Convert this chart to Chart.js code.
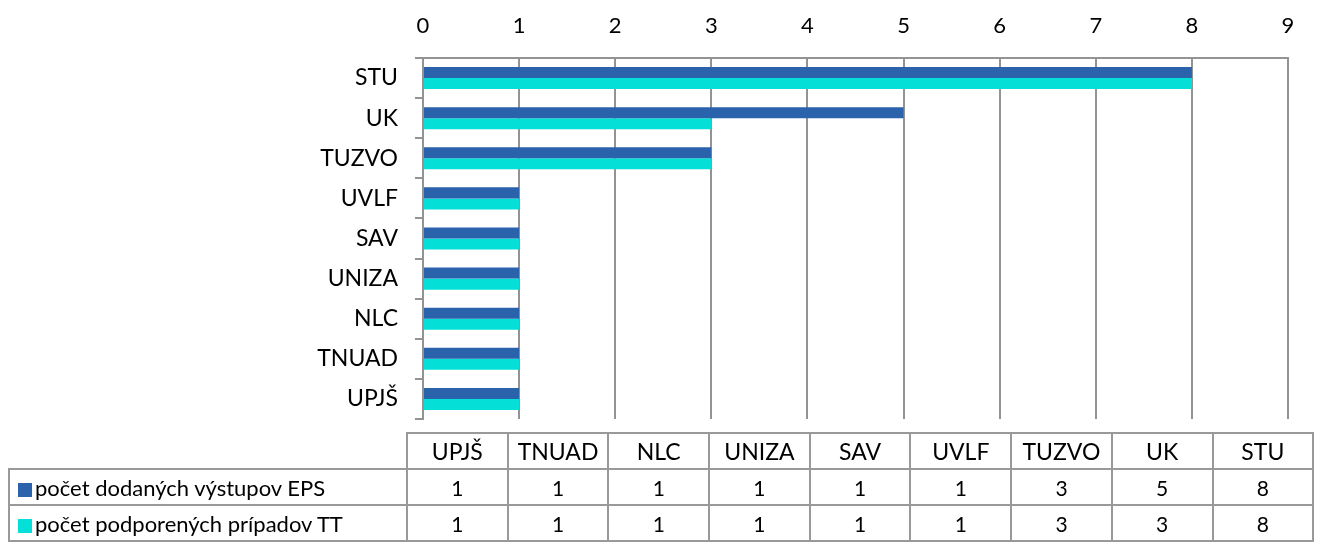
<!DOCTYPE html>
<html>
<head>
<meta charset="utf-8">
<script src="https://cdn.jsdelivr.net/npm/chart.js@4"></script>
<style>
  html, body { margin: 0; padding: 0; background: #fff; }
  #wrap { position: relative; width: 1319px; height: 545px; font-family: Lato, "Open Sans", sans-serif; }
  #chart { position: absolute; left: 0; top: 0; }
  #tbl { position: absolute; left: 8px; top: 432px; border-collapse: collapse; table-layout: fixed; color: #000; }
  #tbl td { border: 2px solid #999; height: 34px; padding: 0; text-align: center; font-size: 21px; }
  #tbl tr.head td { font-size: 23px; }
  #tbl td.corner { border-top: none; border-left: none; }
  #tbl td.name { text-align: left; font-size: 22px; padding-left: 8px; white-space: nowrap; }
  .sw { display: inline-block; width: 14px; height: 14px; margin-right: 3px; vertical-align: -1px; }
</style>
</head>
<body>
<div id="wrap">
  <canvas id="chart" width="1319" height="545"></canvas>
  <table id="tbl"></table>
</div>
<script>
const categories = ['UPJŠ', 'TNUAD', 'NLC', 'UNIZA', 'SAV', 'UVLF', 'TUZVO', 'UK', 'STU'];
const seriesNames = ['počet dodaných výstupov EPS', 'počet podporených prípadov TT'];
const eps = [1, 1, 1, 1, 1, 1, 3, 5, 8];
const tt = [1, 1, 1, 1, 1, 1, 3, 3, 8];
const colors = ['#2a63ac', '#04e0d8'];
const gridGray = '#939393';

const series = [eps, tt];

// data table under the plot
const tbl = document.getElementById('tbl');
let html = '<colgroup><col style="width:398px">' +
  categories.map(() => '<col style="width:100.7px">').join('') + '</colgroup>';
html += '<tr class="head"><td class="corner"></td>' + categories.map(c => `<td>${c}</td>`).join('') + '</tr>';
series.forEach((vals, i) => {
  html += `<tr><td class="name"><span class="sw" style="background:${colors[i]}"></span>${seriesNames[i]}</td>` +
    vals.map(v => `<td>${v}</td>`).join('') + '</tr>';
});
tbl.innerHTML = html;

const data = {
  labels: categories,
  datasets: series.map((vals, i) => ({
    label: seriesNames[i],
    data: vals,
    backgroundColor: colors[i],
    categoryPercentage: 0.55,
    barPercentage: 1,
  })),
};

const options = {
  indexAxis: 'y',
  responsive: false,
  animation: false,
  devicePixelRatio: 1,
  layout: { padding: { left: 0, top: 0, right: 31, bottom: 126 } },
  plugins: {
    legend: { display: false },
    tooltip: { enabled: false },
  },
  scales: {
    x: {
      position: 'top',
      min: 0,
      max: 9,
      ticks: { stepSize: 1, color: '#000', padding: 19, font: { family: 'Lato', size: 22 } },
      grid: { color: gridGray, lineWidth: 2, drawTicks: false },
      border: { display: true, color: gridGray, width: 2 },
      afterFit: (scale) => { scale.height = 58; },
    },
    y: {
      reverse: true,
      ticks: { color: '#000', padding: 17, font: { family: 'Lato', size: 23 } },
      grid: { color: gridGray, lineWidth: 2, drawOnChartArea: false, drawTicks: true, tickLength: 8, offset: true },
      border: { display: true, color: gridGray, width: 2 },
      afterFit: (scale) => { scale.width = 423; },
    },
  },
};

new Chart(document.getElementById('chart'), {
  type: 'bar',
  data,
  options,
});
</script>
</body>
</html>
